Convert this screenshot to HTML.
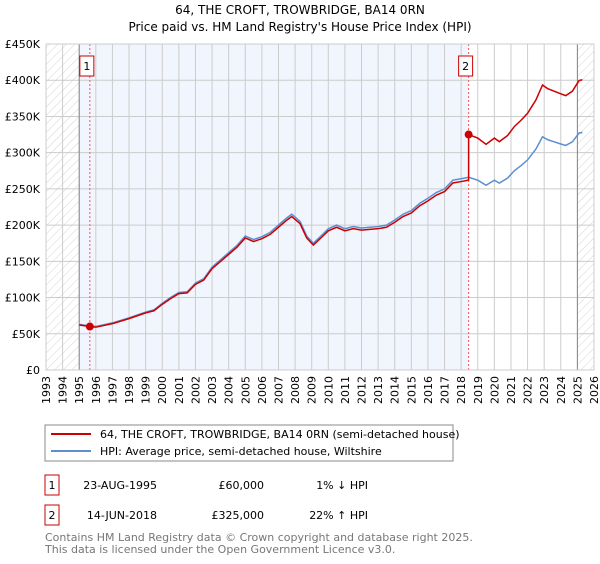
<!DOCTYPE html>
<html><head><meta charset="utf-8"><style>
body{margin:0;background:#fff;font-family:"DejaVu Sans","Liberation Sans",sans-serif}
svg text{font-family:"DejaVu Sans","Liberation Sans",sans-serif}
</style></head><body>
<svg id="c" width="600" height="560" viewBox="0 0 600 560">
<defs><pattern id="h" width="6" height="6" patternUnits="userSpaceOnUse" patternTransform="rotate(45)"><line x1="0" y1="0" x2="0" y2="6" stroke="#d4d4d4" stroke-width="1"/></pattern></defs>
<text x="300" y="14" text-anchor="middle" font-size="12">64, THE CROFT, TROWBRIDGE, BA14 0RN</text>
<text x="300" y="31" text-anchor="middle" font-size="12">Price paid vs. HM Land Registry's House Price Index (HPI)</text>
<g id="plot"></g>
<g>
<rect x="45" y="425" width="408" height="36" fill="#fff" stroke="#888"/>
<line x1="51" y1="434" x2="91" y2="434" stroke="#cc0000" stroke-width="2"/>
<text x="100" y="438" font-size="11">64, THE CROFT, TROWBRIDGE, BA14 0RN (semi-detached house)</text>
<line x1="51" y1="451" x2="91" y2="451" stroke="#5b8fd0" stroke-width="2"/>
<text x="100" y="455" font-size="11">HPI: Average price, semi-detached house, Wiltshire</text>
</g>
<g font-size="11">
<rect x="45" y="475" width="14" height="20" fill="#fff" stroke="#cc0000"/><text x="52" y="489" text-anchor="middle">1</text>
<text x="157" y="489" text-anchor="end">23-AUG-1995</text>
<text x="264" y="489" text-anchor="end">£60,000</text>
<text x="368" y="489" text-anchor="end">1% ↓ HPI</text>
<rect x="45" y="505" width="14" height="20" fill="#fff" stroke="#cc0000"/><text x="52" y="519" text-anchor="middle">2</text>
<text x="157" y="519" text-anchor="end">14-JUN-2018</text>
<text x="264" y="519" text-anchor="end">£325,000</text>
<text x="368" y="519" text-anchor="end">22% ↑ HPI</text>
</g>
<text x="45" y="541" font-size="11" fill="#777">Contains HM Land Registry data © Crown copyright and database right 2025.</text>
<text x="45" y="553" font-size="11" fill="#777">This data is licensed under the Open Government Licence v3.0.</text>
</svg>
<script>
const hpiDates=[1995.0,1995.6,1996,1997,1998,1999,1999.5,2000,2000.5,2001,2001.5,2002,2002.5,2003,2003.5,2004,2004.5,2005,2005.5,2006,2006.5,2007,2007.5,2007.8,2008.3,2008.7,2009.1,2009.6,2010,2010.5,2011,2011.5,2012,2012.5,2013,2013.5,2014,2014.5,2015,2015.5,2016,2016.5,2017,2017.5,2018,2018.45,2019,2019.5,2020,2020.3,2020.8,2021.2,2021.6,2022,2022.5,2022.9,2023.2,2023.6,2024,2024.3,2024.7,2025.1,2025.3];
const hpiValues=[63,61,60,65,72,80,83,92,100,107,108,120,126,142,152,162,172,185,180,184,190,200,210,215,205,185,175,186,195,200,195,198,196,197,198,200,207,215,220,230,237,245,250,262,264,266,262,255,262,258,265,275,282,290,305,322,318,315,312,310,315,327,328];
const saleDates=[1995.64,2018.45];
const salePrices=[60,325];
const yTicks=[0,50,100,150,200,250,300,350,400,450];
const yLabels=["£0","£50K","£100K","£150K","£200K","£250K","£300K","£350K","£400K","£450K"];
const xYears=[1993,1994,1995,1996,1997,1998,1999,2000,2001,2002,2003,2004,2005,2006,2007,2008,2009,2010,2011,2012,2013,2014,2015,2016,2017,2018,2019,2020,2021,2022,2023,2024,2025,2026];
const L=46,R=594,T=44,B=370,NS="http://www.w3.org/2000/svg";
const X=d=>L+(d-1993)/(2026-1993)*(R-L);
const Y=v=>B-v/450*(B-T);
const g=document.getElementById('plot');
function el(t,a,p){const e=document.createElementNS(NS,t);for(const k in a)e.setAttribute(k,a[k]);(p||g).appendChild(e);return e;}
function hpiAt(d){for(let i=1;i<hpiDates.length;i++){if(d<=hpiDates[i]){const f=(d-hpiDates[i-1])/(hpiDates[i]-hpiDates[i-1]);return hpiValues[i-1]+f*(hpiValues[i]-hpiValues[i-1]);}}return hpiValues[hpiValues.length-1];}
let r=el('rect',{x:X(1995),y:T,width:X(saleDates[1])-X(1995),height:B-T,fill:'#f1f5fd'});


r=el('rect',{x:L,y:T,width:X(1995)-L,height:B-T,fill:'url(#h)'});


r=el('rect',{x:X(2025),y:T,width:R-X(2025),height:B-T,fill:'url(#h)'});


xYears.forEach(y=>{const l=el('line',{x1:X(y),x2:X(y),y1:T,y2:B,stroke:'#ccc'});


const t=el('text',{x:0,y:0,'font-size':11,'text-anchor':'end',transform:`translate(${X(y)+4},${B+6}) rotate(-90)`});t.textContent=y;

});
yTicks.forEach((v,i)=>{const l=el('line',{x1:L,x2:R,y1:Y(v),y2:Y(v),stroke:'#ccc'});


const t=el('text',{x:L-6,y:Y(v)+4,'font-size':11,'text-anchor':'end'});t.textContent=yLabels[i];

});
[1995,2025].forEach(y=>{const l=el('line',{x1:X(y),x2:X(y),y1:T,y2:B,stroke:'#888'});

});
saleDates.forEach((d,i)=>{const l=el('line',{x1:X(d),x2:X(d),y1:T,y2:B,stroke:'#f55','stroke-dasharray':'2,2'});


const b=el('rect',{x:X(d)-10,y:56,width:14,height:20,fill:'#fff',stroke:'#cc0000'});


const t=el('text',{x:X(d)-3,y:70,'font-size':11,'text-anchor':'middle'});t.textContent=i+1;

});
let hp=hpiDates.map((d,i)=>X(d)+','+Y(hpiValues[i])).join(' ');
let p=el('polyline',{points:hp,fill:'none',stroke:'#5b8fd0','stroke-width':1.5});


let pts=[];
hpiDates.forEach((d,i)=>{const k=d<saleDates[1]?0:1;if(d<saleDates[0])return;pts.push([d,hpiValues[i]*salePrices[k]/hpiAt(saleDates[k])]);});
pts.push([saleDates[0],salePrices[0]],[saleDates[1]-0.001,hpiAt(saleDates[1]-0.001)*salePrices[0]/hpiAt(saleDates[0])],[saleDates[1],salePrices[1]]);
pts.unshift([1995.0,hpiValues[0]*salePrices[0]/hpiAt(saleDates[0])]);
pts.sort((a,b)=>a[0]-b[0]);
p=el('polyline',{points:pts.map(q=>X(q[0])+','+Y(q[1])).join(' '),fill:'none',stroke:'#cc0000','stroke-width':1.5});


saleDates.forEach((d,i)=>{const c=el('circle',{cx:X(d),cy:Y(salePrices[i]),r:4,fill:'#cc0000'});

});
const ax=el('rect',{x:L,y:T,width:R-L,height:B-T,fill:'none',stroke:'#ccc'});


</script>
</body></html>
